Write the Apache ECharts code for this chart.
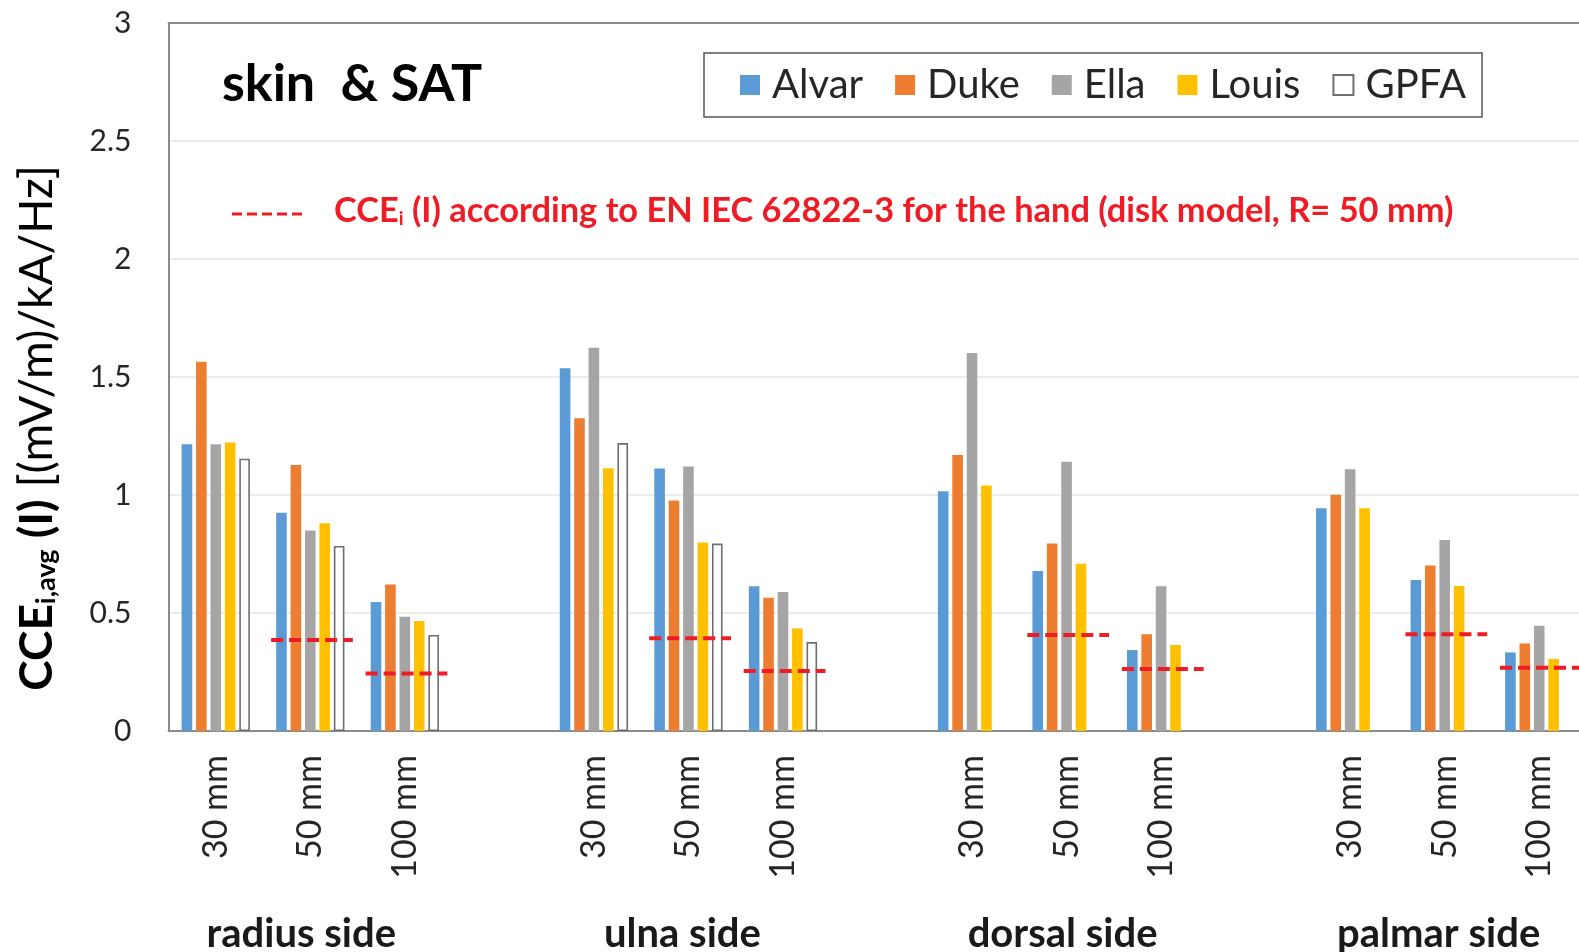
<!DOCTYPE html>
<html><head><meta charset="utf-8">
<script src="https://cdn.jsdelivr.net/npm/echarts@6/dist/echarts.min.js"></script>
<style>html,body{margin:0;padding:0;background:#fff}#c{width:1579px;height:952px}</style>
</head><body><div id="c"></div>
<script>
const categories = ['30 mm','50 mm','100 mm','','30 mm','50 mm','100 mm','','30 mm','50 mm','100 mm','','30 mm','50 mm','100 mm'];
const groupLabels = ['radius side','ulna side','dorsal side','palmar side'];
const groupLabelIndex = [1,5,9,13];
const seriesNames = ['Alvar','Duke','Ella','Louis','GPFA'];
const alvar = [1.215,0.925,0.547,null,1.537,1.112,0.613,null,1.016,0.678,0.343,null,0.944,0.640,0.333];
const duke  = [1.565,1.127,0.621,null,1.325,0.977,0.565,null,1.169,0.795,0.410,null,1.001,0.701,0.371];
const ella  = [1.215,0.850,0.484,null,1.624,1.121,0.589,null,1.602,1.141,0.613,null,1.109,0.809,0.446];
const louis = [1.222,0.880,0.466,null,1.113,0.799,0.434,null,1.040,0.709,0.364,null,0.944,0.614,0.305];
const gpfa  = [1.154,0.784,0.407,null,1.220,0.794,0.377,null,null,null,null,null,null,null,null];
const iecIndex = [1,2,5,6,9,10,13,14];
const iecValue = [0.386,0.244,0.393,0.254,0.407,0.263,0.410,0.268];
const yTicks = [0,0.5,1,1.5,2,2.5,3];

const FONT = 'Lato';
const colors = ['#5B9BD5','#ED7D31','#A5A5A5','#FFC000','#FFFFFF'];
const values = [alvar,duke,ella,louis,gpfa];
const chart = echarts.init(document.getElementById('c'));

const barSeries = seriesNames.map((n,i)=>({
  name:n, type:'bar', xAxisIndex:0,
  data: values[i].map(v=> v===null ? '-' : v),
  barWidth:10.6, barGap:'36%',
  itemStyle: i===4 ? {color:'#FFFFFF', borderColor:'#6E6E6E', borderWidth:1.6} : {color:colors[i]},
  emphasis:{disabled:true}
}));

const iecSeries = {
  name:'IEC', type:'custom', xAxisIndex:0, z:10,
  data: iecIndex.map((k,i)=>[k, iecValue[i]]),
  renderItem:(params, api)=>{
    const p = api.coord([api.value(0), api.value(1)]);
    const w = api.size([1,0])[0];
    return {type:'line', shape:{x1:p[0]-w*0.415, y1:p[1], x2:p[0]+w*0.45, y2:p[1]},
      style:{stroke:'#EE1C25', lineWidth:4, lineDash:[12,6]}};
  }
};

const groupRich = {};
[18,12,8,12].forEach((pad,g)=>{
  groupRich['g'+g] = {fontSize:40, fontWeight:'bold', fontFamily:FONT, color:'#1a1a1a', padding:[0,pad,0,0]};
});

chart.setOption({
  animation:false,
  textStyle:{fontFamily:FONT},
  grid:{left:168.5, top:23, width:1418, bottom:221, outerBoundsMode:'none', containLabel:false},
  legend:{
    data:seriesNames, left:704, top:53, icon:'rect', itemWidth:20, itemHeight:20, itemGap:32,
    padding:[12,16,12,36], borderColor:'#555', borderWidth:1.5,
    textStyle:{fontFamily:FONT, fontSize:40, color:'#262626', padding:[0,0,0,7]}
  },
  xAxis:[
    {type:'category', data:categories, position:'bottom',
     axisLine:{lineStyle:{color:'#8c8c8c', width:2}}, axisTick:{show:false},
     axisLabel:{rotate:90, margin:24, fontSize:34, color:'#262626', fontFamily:FONT, interval:0}},
    {type:'category', data:categories, position:'bottom',
     axisLine:{show:false}, axisTick:{show:false},
     axisLabel:{interval:0, margin:183, fontSize:40, fontWeight:'bold', color:'#1a1a1a', fontFamily:FONT,
       rich:groupRich,
       formatter:(v,idx)=>{const g=groupLabelIndex.indexOf(idx); if(g<0) return ''; return '{g'+g+'|'+groupLabels[g]+'}';}}},
    {type:'category', data:categories, position:'top',
     axisLine:{lineStyle:{color:'#8c8c8c', width:2}}, axisTick:{show:false}, axisLabel:{show:false}}
  ],
  yAxis:{type:'value', min:yTicks[0], max:yTicks[yTicks.length-1], interval:0.5,
    axisLine:{show:true, lineStyle:{color:'#8c8c8c', width:2}}, axisTick:{show:false},
    splitLine:{lineStyle:{color:'#e6e6e6', width:1.5}},
    axisLabel:{margin:37, fontSize:30, color:'#262626', fontFamily:FONT}},
  graphic:[
    {type:'text', left:222, top:58, style:{text:'skin  & SAT', fontFamily:FONT, fontWeight:'bold', fontSize:52, fill:'#000'}},
    {type:'line', shape:{x1:232, y1:214, x2:307, y2:214}, style:{stroke:'#EE1C25', lineWidth:3, lineDash:[10,5]}},
    {type:'text', left:334, top:194, style:{
      text:'{b|CCE}{s|i}{b| (I) according to EN IEC 62822-3 for the hand (disk model, R= 50 mm)}',
      rich:{b:{fontFamily:FONT, fontWeight:'bold', fontSize:34.4, fill:'#EE1C25'},
            s:{fontFamily:FONT, fontWeight:'bold', fontSize:19, fill:'#EE1C25', verticalAlign:'bottom'}}}},
    {type:'text', x:37, y:428, rotation:Math.PI/2, style:{
      text:'{b|CCE}{s|i,avg}{b| (I)}{r| [(mV/m)/kA/Hz]}', align:'center', verticalAlign:'middle',
      rich:{b:{fontFamily:FONT, fontWeight:'bold', fontSize:46, fill:'#000'},
            s:{fontFamily:FONT, fontWeight:'bold', fontSize:27, fill:'#000', verticalAlign:'bottom'},
            r:{fontFamily:FONT, fontSize:46, fill:'#000'}}}}
  ],
  series:[...barSeries, iecSeries]
});
</script></body></html>
